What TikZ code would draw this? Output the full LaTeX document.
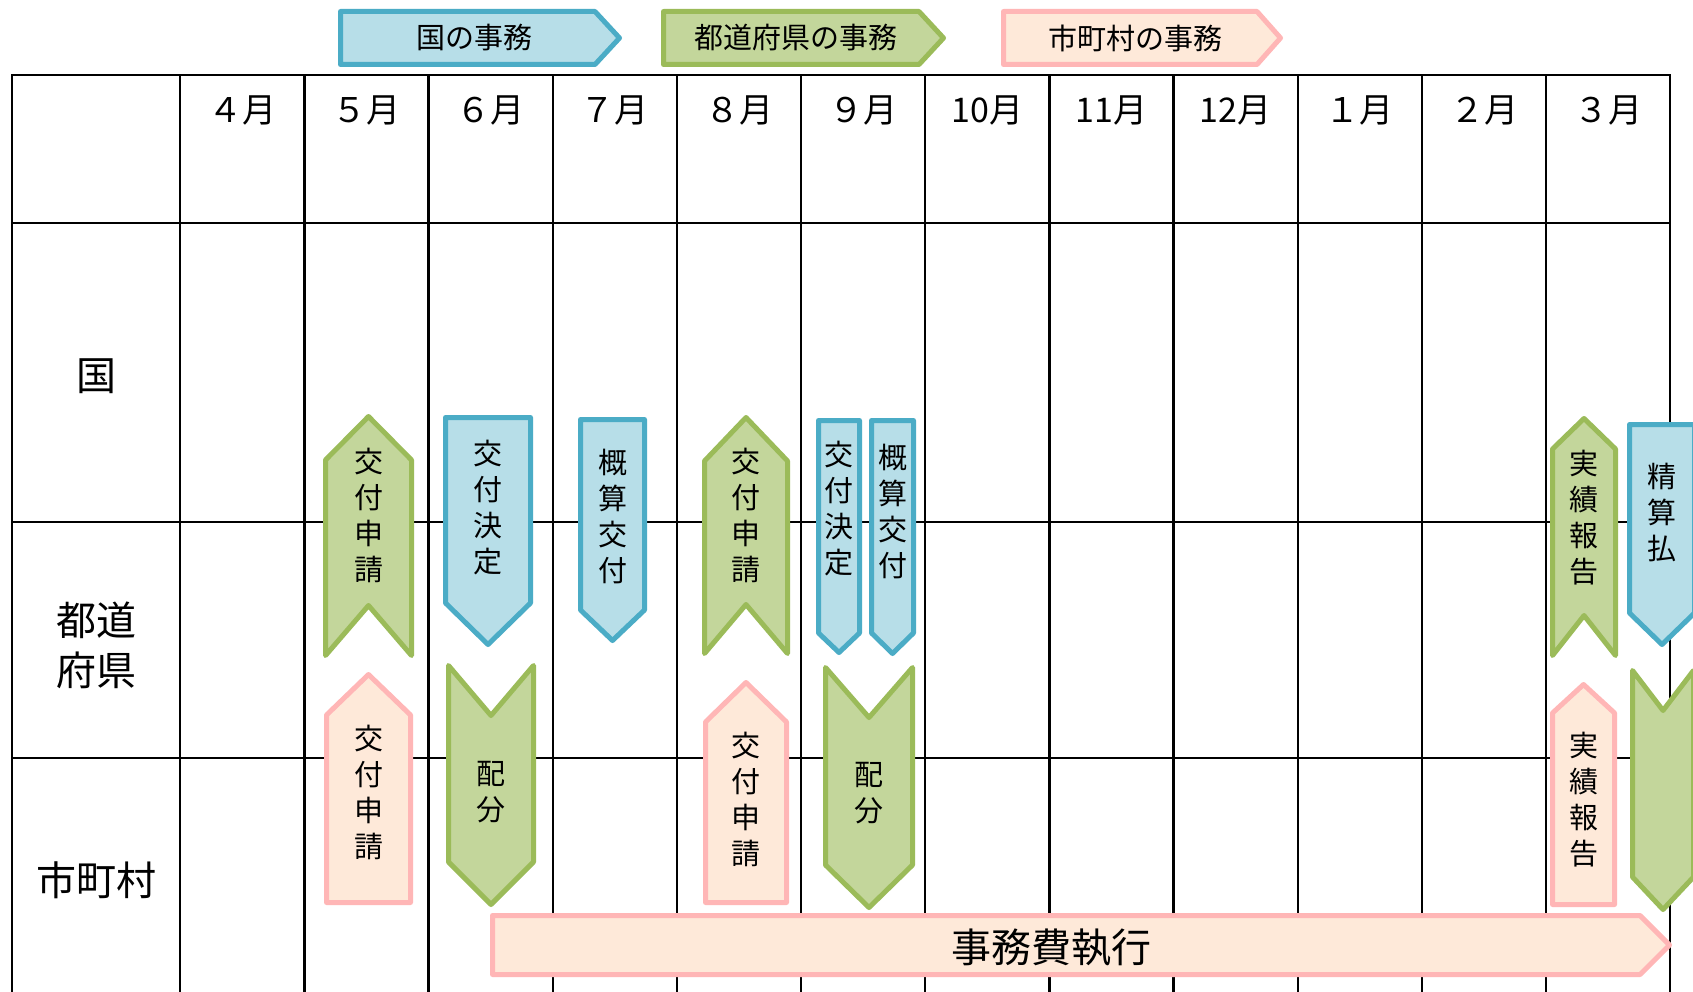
\documentclass[tikz,border=0pt]{standalone}
\usepackage{fontspec}
\setmainfont{Noto Sans CJK JP}
\definecolor{bline}{HTML}{4BACC6}
\definecolor{bfill}{HTML}{B7DEE8}
\definecolor{gline}{HTML}{9BBB59}
\definecolor{gfill}{HTML}{C3D69B}
\definecolor{pline}{HTML}{FFB6B6}
\definecolor{pfill}{HTML}{FEE9D9}
\tikzset{
  bshape/.style={draw=bline,fill=bfill,line width=5pt,line join=round},
  gshape/.style={draw=gline,fill=gfill,line width=5pt,line join=round},
  pshape/.style={draw=pline,fill=pfill,line width=5pt,line join=round},
  gridline/.style={line width=2.4pt,black,line cap=rect},
  vtext/.style={inner sep=0pt,align=center,font=\fontsize{29}{36}\selectfont},
  monthlbl/.style={inner sep=0pt,font=\fontsize{34}{40}\selectfont},
  rowlbl/.style={inner sep=0pt,align=center,font=\fontsize{40}{50}\selectfont},
  legendlbl/.style={inner sep=0pt,font=\fontsize{29}{34}\selectfont},
  biglbl/.style={inner sep=0pt,font=\fontsize{40}{46}\selectfont}
}
% all measurements are outer edges; the stroke (5pt) is centred, so inset by 2.5
% style, cx, top, halfwidth, shoulder, tip
\newcommand{\shpDownPent}[6]{\draw[#1] ({#2-#4+2.5},{#3+2.5}) -- ({#2+#4-2.5},{#3+2.5}) -- ({#2+#4-2.5},#5) -- (#2,{#6-2.5}) -- ({#2-#4+2.5},#5) -- cycle;}
% style, cx, tip, halfwidth, shoulder, bottom
\newcommand{\shpUpPent}[6]{\draw[#1] (#2,{#3+2.5}) -- ({#2+#4-2.5},#5) -- ({#2+#4-2.5},{#6-2.5}) -- ({#2-#4+2.5},{#6-2.5}) -- ({#2-#4+2.5},#5) -- cycle;}
% style, cx, tip, halfwidth, shoulder, bottom, notch
\newcommand{\shpUpChev}[7]{\draw[#1] (#2,{#3+2.5}) -- ({#2+#4-2.5},#5) -- ({#2+#4-2.5},{#6-2.5}) -- (#2,{#7-2.5}) -- ({#2-#4+2.5},{#6-2.5}) -- ({#2-#4+2.5},#5) -- cycle;}
% style, cx, top, halfwidth, notch, sideend, tip
\newcommand{\shpDownChev}[7]{\draw[#1] ({#2-#4+2.5},{#3+2.5}) -- (#2,{#5+2.5}) -- ({#2+#4-2.5},{#3+2.5}) -- ({#2+#4-2.5},#6) -- (#2,{#7-2.5}) -- ({#2-#4+2.5},#6) -- cycle;}
% style, left, top, bottom, bodyend, tip
\newcommand{\shpRightArrow}[6]{\draw[#1] ({#2+2.5},{#3+2.5}) -- (#5,{#3+2.5}) -- ({#6-2.5},{(#3+#4)/2}) -- (#5,{#4-2.5}) -- ({#2+2.5},{#4-2.5}) -- cycle;}
\begin{document}
\begin{tikzpicture}[x=1pt,y=-1pt]
\useasboundingbox (0,0) rectangle (1693,992);
\fill[white] (0,0) rectangle (1693,992);
% table grid
\foreach \x in {12,180,304.5,428.6,552.8,677,801,925,1049.5,1173.6,1297.8,1422,1546,1670}
  \draw[gridline] (\x,75) -- (\x,992);
\foreach \y in {75,223,522,758}
  \draw[gridline] (12,\y) -- (1670,\y);
% month labels
\node[monthlbl] (m4) at (242.2,111) {４月};
\node[monthlbl] (m5) at (366.5,111) {５月};
\node[monthlbl] (m6) at (490.7,111) {６月};
\node[monthlbl] (m7) at (614.9,111) {７月};
\node[monthlbl] (m8) at (739,111) {８月};
\node[monthlbl] (m9) at (863,111) {９月};
\node[monthlbl] (m10) at (987.2,111) {10月};
\node[monthlbl] (m11) at (1111.5,111) {11月};
\node[monthlbl] (m12) at (1235.7,111) {12月};
\node[monthlbl] (m1) at (1359.9,111) {１月};
\node[monthlbl] (m2) at (1484,111) {２月};
\node[monthlbl] (m3) at (1608,111) {３月};
% row labels
\node[rowlbl] (rkuni) at (96,376) {国};
\node[rowlbl] (rken) at (96,645) {都道\\府県};
\node[rowlbl] (rshi) at (96,880) {市町村};
% legend
\shpRightArrow{bshape}{338}{9}{67}{595}{622}
\node[legendlbl] (lgb) at (474,38) {国の事務};
\shpRightArrow{gshape}{661}{9}{67}{919}{946}
\node[legendlbl] (lgg) at (796,38) {都道府県の事務};
\shpRightArrow{pshape}{1001}{9}{67}{1257}{1283}
\node[legendlbl] (lgp) at (1135,38) {市町村の事務};
% May
\shpUpChev{gshape}{368.5}{414}{45.5}{460}{658}{608}
\node[vtext] (s1) at (368.5,515) {交\\付\\申\\請};
\shpUpPent{pshape}{368.5}{672}{44.5}{715}{905}
\node[vtext] (s2) at (368.5,792) {交\\付\\申\\請};
% June
\shpDownPent{bshape}{488}{415}{45}{603}{647}
\node[vtext] (s3) at (488,508) {交\\付\\決\\定};
\shpDownChev{gshape}{491}{663}{45}{713}{862}{907}
\node[vtext] (s4) at (491,792) {配\\分};
% July
\shpDownPent{bshape}{612.5}{417}{34.5}{610}{643}
\node[vtext] (s5) at (612.5,517) {概\\算\\交\\付};
% August
\shpUpChev{gshape}{746}{415}{44}{461}{656}{607}
\node[vtext] (s6) at (746,515) {交\\付\\申\\請};
\shpUpPent{pshape}{746}{680}{43}{722}{905}
\node[vtext] (s7) at (746,799) {交\\付\\申\\請};
% September
\shpDownPent{bshape}{839}{418}{23}{633}{655}
\node[vtext] (s8) at (839,509) {交\\付\\決\\定};
\shpDownPent{bshape}{892.5}{418}{23.5}{633}{656}
\node[vtext] (s9) at (892.5,512) {概\\算\\交\\付};
\shpDownChev{gshape}{869}{665}{46}{715}{865}{910}
\node[vtext] (s10) at (869,793) {配\\分};
% March
\shpUpChev{gshape}{1584}{416}{34}{449}{658}{618}
\node[vtext] (s11) at (1584,518) {実\\績\\報\\告};
\shpDownPent{bshape}{1662}{422}{35}{613}{647}
\node[vtext] (s12) at (1662,512) {精\\算\\払};
\shpUpPent{pshape}{1583.5}{682}{33.5}{713}{907}
\node[vtext] (s13) at (1583.5,800) {実\\績\\報\\告};
\shpDownChev{gshape}{1663}{668}{33}{708}{877}{912}
% expense execution arrow
\shpRightArrow{pshape}{490}{913}{977}{1640}{1672}
\node[biglbl] (exec) at (1051,948) {事務費執行};
\end{tikzpicture}
\end{document}
